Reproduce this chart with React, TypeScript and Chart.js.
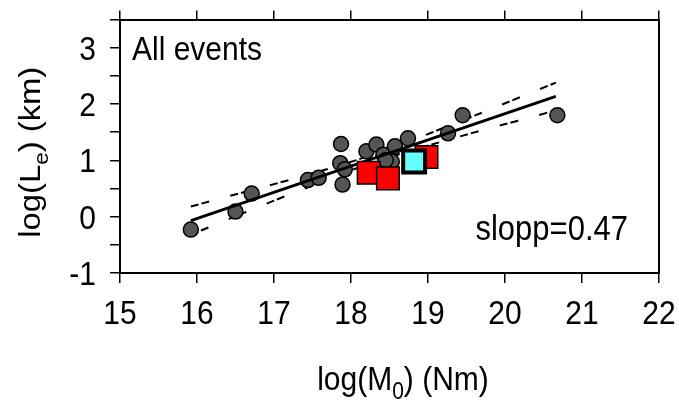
import React, { useEffect, useRef } from 'react';
import { Chart, registerables } from 'chart.js';

Chart.register(...registerables);

// ---------- data ----------
const xTickValues = [15, 16, 17, 18, 19, 20, 21, 22];
const yTickValues = [-1, 0, 1, 2, 3];

// grey circles: all events
const eventX = [15.92, 16.5, 16.71, 17.44, 17.58, 17.87, 17.86, 17.92, 17.89, 18.2, 18.33, 18.42, 18.57, 18.74, 18.53, 18.45, 19.26, 19.45, 20.68];
const eventY = [-0.23, 0.09, 0.41, 0.65, 0.69, 1.29, 0.95, 0.84, 0.57, 1.16, 1.28, 1.1, 1.25, 1.39, 0.98, 1.0, 1.48, 1.8, 1.8];

// red squares
const redX = [18.23, 18.48, 18.98];
const redY = [0.78, 0.68, 1.06];

// cyan square
const cyanX = [18.82];
const cyanY = [0.98];

// regression line
const fitX = [15.92, 20.66];
const fitY = [-0.07, 2.135];

// confidence band (dashed)
const bandX = [15.92, 16.4, 16.9, 17.4, 17.9, 18.3, 18.8, 19.3, 19.8, 20.3, 20.66];
const bandUpper = [0.18, 0.36, 0.54, 0.73, 0.93, 1.11, 1.36, 1.63, 1.9, 2.18, 2.38];
const bandLower = [-0.32, -0.05, 0.23, 0.5, 0.77, 0.97, 1.18, 1.38, 1.57, 1.75, 1.89];

const panelLabel = 'All events';
const slopeLabel = 'slopp=0.47';
const xTitleParts = [
  { text: 'log(M', sub: false },
  { text: '0', sub: true },
  { text: ') (Nm)', sub: false },
];
const yTitleParts = [
  { text: 'log(L', sub: false },
  { text: 'e', sub: true },
  { text: ') (km)', sub: false },
];

const FONT = '"Liberation Sans", Arial, Helvetica, sans-serif';
const STRETCH = 1.13;

const toPts = (xs: number[], ys: number[]) => xs.map((x, i) => ({ x, y: ys[i] }));

function drawRich(ctx: CanvasRenderingContext2D, parts: { text: string; sub: boolean }[], cx: number, baseline: number, size: number) {
  const subSize = Math.round(size * 0.7);
  let total = 0;
  const widths = parts.map((p) => {
    ctx.font = `${p.sub ? subSize : size}px ${FONT}`;
    const w = ctx.measureText(p.text).width;
    total += w;
    return w;
  });
  let x = cx - total / 2;
  ctx.textAlign = 'left';
  ctx.textBaseline = 'alphabetic';
  parts.forEach((p, i) => {
    ctx.font = `${p.sub ? subSize : size}px ${FONT}`;
    ctx.fillText(p.text, x, p.sub ? baseline + size * 0.28 : baseline);
    x += widths[i];
  });
}

function drawStretched(ctx: CanvasRenderingContext2D, text: string, x: number, baseline: number, size: number, align: CanvasTextAlign) {
  ctx.save();
  ctx.translate(x, baseline);
  ctx.scale(1, STRETCH);
  ctx.font = `${size}px ${FONT}`;
  ctx.textAlign = align;
  ctx.textBaseline = 'alphabetic';
  ctx.fillText(text, 0, 0);
  ctx.restore();
}

const textPlugin = {
  id: 'textPlugin',
  afterDraw(chart: any) {
    const { ctx, chartArea } = chart;
    const xs = chart.scales.x;
    const ys = chart.scales.y;
    ctx.save();
    ctx.fillStyle = '#000';

    // tick labels
    xTickValues.forEach((v) => drawStretched(ctx, String(v), xs.getPixelForValue(v), 324, 30, 'center'));
    yTickValues.forEach((v) => drawStretched(ctx, String(v), 96, ys.getPixelForValue(v) + 12, 30, 'right'));

    // annotations
    drawStretched(ctx, panelLabel, chartArea.left + 12, chartArea.top + 40, 30, 'left');
    drawStretched(ctx, slopeLabel, chartArea.right - 31, 240, 31, 'right');

    // x-axis title
    ctx.save();
    ctx.translate(403, 390);
    ctx.scale(1, STRETCH);
    drawRich(ctx, xTitleParts, 0, 0, 30);
    ctx.restore();

    // y-axis title
    ctx.save();
    ctx.translate(40, (chartArea.top + chartArea.bottom) / 2 + 6);
    ctx.rotate(-Math.PI / 2);
    ctx.scale(STRETCH, 1);
    drawRich(ctx, yTitleParts, 0, 0, 29);
    ctx.restore();

    ctx.restore();
  },
};

export default function App() {
  const ref = useRef<HTMLCanvasElement | null>(null);

  useEffect(() => {
    if (!ref.current) return;
    const chart = new Chart(ref.current, {
      type: 'scatter',
      data: {
        datasets: [
          {
            label: 'cyan',
            data: toPts(cyanX, cyanY),
            pointStyle: 'rect',
            pointRadius: 15.5,
            backgroundColor: '#66ffff',
            borderColor: '#000',
            pointBorderWidth: 4,
            order: 0,
          },
          {
            label: 'red',
            data: toPts(redX, redY),
            pointStyle: 'rect',
            pointRadius: 16,
            backgroundColor: '#ff0000',
            borderColor: '#000',
            pointBorderWidth: 1.5,
            order: 1,
          },
          {
            label: 'fit',
            data: toPts(fitX, fitY),
            showLine: true,
            pointRadius: 0,
            borderColor: '#000',
            borderWidth: 3,
            order: 2,
          },
          {
            label: 'events',
            data: toPts(eventX, eventY),
            pointStyle: 'circle',
            pointRadius: 7.5,
            backgroundColor: '#555555',
            borderColor: '#000',
            pointBorderWidth: 1.5,
            order: 3,
          },
          {
            label: 'upper',
            data: toPts(bandX, bandUpper),
            showLine: true,
            pointRadius: 0,
            borderColor: '#000',
            borderWidth: 2,
            borderDash: [8, 3, 8, 22],
            tension: 0.3,
            order: 4,
          },
          {
            label: 'lower',
            data: toPts(bandX, bandLower),
            showLine: true,
            pointRadius: 0,
            borderColor: '#000',
            borderWidth: 2,
            borderDash: [8, 3, 8, 22],
            tension: 0.3,
            order: 4,
          },
        ],
      },
      options: {
        responsive: false,
        animation: false,
        devicePixelRatio: 1,
        layout: { padding: { left: 0, right: 20, top: 0, bottom: 0 } },
        plugins: {
          legend: { display: false },
          tooltip: { enabled: false },
        },
        scales: {
          x: {
            type: 'linear',
            position: 'bottom',
            min: xTickValues[0],
            max: xTickValues[xTickValues.length - 1],
            afterBuildTicks: (s: any) => {
              s.ticks = xTickValues.map((v) => ({ value: v }));
            },
            ticks: { callback: () => '', autoSkip: false, maxRotation: 0 },
            grid: { drawOnChartArea: false, drawTicks: true, tickLength: 10, color: '#000', lineWidth: 1.5 },
            border: { display: true, color: '#000', width: 2 },
            afterFit: (s: any) => {
              s.height = 130;
            },
          },
          x2: {
            type: 'linear',
            position: 'top',
            min: xTickValues[0],
            max: xTickValues[xTickValues.length - 1],
            afterBuildTicks: (s: any) => {
              s.ticks = xTickValues.map((v) => ({ value: v }));
            },
            ticks: { callback: () => '', autoSkip: false },
            grid: { drawOnChartArea: false, drawTicks: true, tickLength: 9, color: '#000', lineWidth: 1.5 },
            border: { display: true, color: '#000', width: 2 },
            afterFit: (s: any) => {
              s.height = 16.5;
            },
          },
          y: {
            type: 'linear',
            position: 'left',
            min: -1,
            max: 3.5,
            ticks: { stepSize: 0.5, autoSkip: false, callback: () => '' },
            grid: { drawOnChartArea: false, drawTicks: true, tickLength: 10, color: '#000', lineWidth: 1.5 },
            border: { display: true, color: '#000', width: 2 },
            afterFit: (s: any) => {
              s.width = 120;
            },
          },
          y2: {
            type: 'linear',
            position: 'right',
            min: -1,
            max: 3.5,
            ticks: { display: false },
            grid: { drawOnChartArea: false, drawTicks: false },
            border: { display: true, color: '#000', width: 2 },
            afterFit: (s: any) => {
              s.width = 0;
            },
          },
        },
      },
      plugins: [textPlugin],
    } as any);
    return () => chart.destroy();
  }, []);

  return (
    <div style={{ position: 'absolute', left: 0, top: 0, width: 679, height: 403, background: '#fff' }}>
      <canvas ref={ref} width={679} height={403} style={{ display: 'block' }} />
    </div>
  );
}
